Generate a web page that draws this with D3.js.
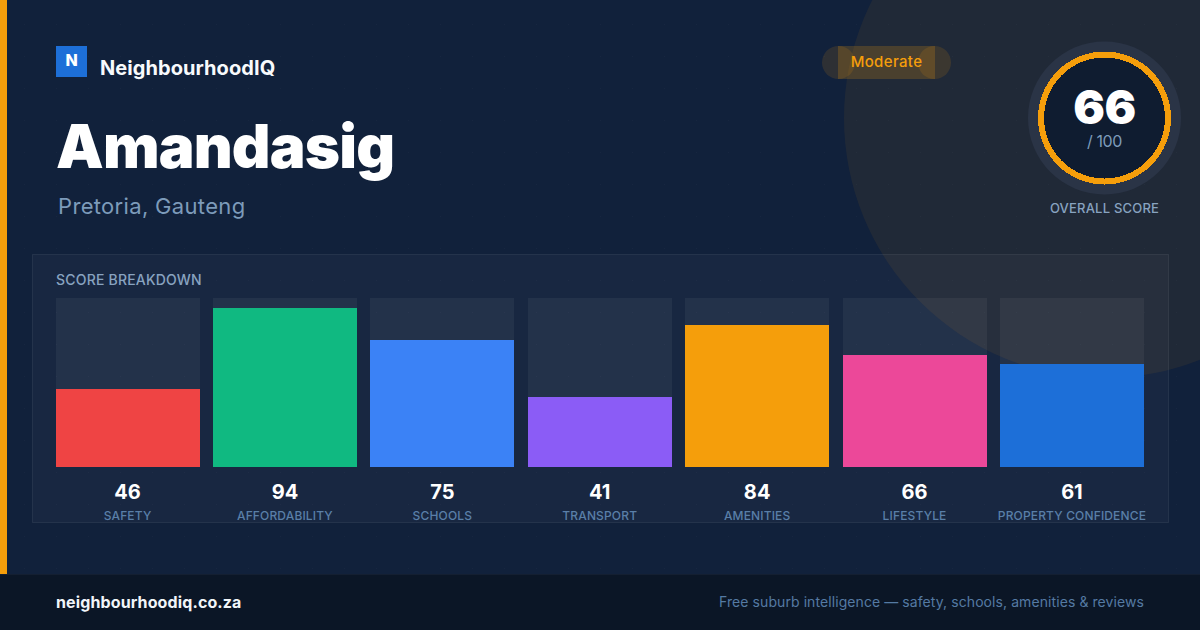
<!DOCTYPE html>
<html>
<head>
<meta charset="utf-8">
<script src="https://cdn.jsdelivr.net/npm/d3@7"></script>
<style>
html, body { margin: 0; padding: 0; background: #0f1f38; }
#chart-area { position: relative; width: 1200px; height: 630px; overflow: hidden; font-family: Inter, "Noto Sans", sans-serif; }
svg { display: block; position: absolute; left: 0; top: 0; }
.lbl { position: absolute; line-height: 1; white-space: nowrap; }
</style>
</head>
<body>
<div id="chart-area"></div>
<script>
var categories = ["SAFETY", "AFFORDABILITY", "SCHOOLS", "TRANSPORT", "AMENITIES", "LIFESTYLE", "PROPERTY CONFIDENCE"];
var scores = [46, 94, 75, 41, 84, 66, 61];
var barColors = ["#ef4444", "#10b981", "#3b82f6", "#8b5cf6", "#f59e0b", "#ec4899", "#1d6fd8"];
var overallScore = 66;

var width = 1200,
    height = 630;

var area = d3.select("#chart-area");

var svg = area.append("svg")
    .attr("width", width)
    .attr("height", height);

var defs = svg.append("defs");

var pattern = defs.append("pattern")
    .attr("id", "dots")
    .attr("width", 32)
    .attr("height", 32)
    .attr("patternUnits", "userSpaceOnUse");
pattern.append("rect")
    .attr("x", 24).attr("y", 24)
    .attr("width", 1).attr("height", 1)
    .attr("fill", "rgba(255,255,255,0.025)");

// text goes in as html so it gets the same glyph spacing as a normal page
function label(txt, x, baseline, size, weight, color, spacing, anchor, boxWidth) {
    var el = area.append("div")
        .attr("class", "lbl")
        .style("top", Math.round(baseline - 0.8636 * size) + "px")
        .style("font-size", size + "px")
        .style("font-weight", weight)
        .style("color", color)
        .style("letter-spacing", (spacing || 0) + "px")
        .text(txt);
    if (anchor == "middle") {
        el.style("left", (x - boxWidth / 2) + "px").style("width", boxWidth + "px").style("text-align", "center");
    } else if (anchor == "end") {
        el.style("right", (width - x) + "px");
    } else {
        el.style("left", x + "px");
    }
    return el;
}

// background
svg.append("rect").attr("width", width).attr("height", height).attr("fill", "#11213b");
svg.append("circle")
    .attr("cx", 1104).attr("cy", 118).attr("r", 260)
    .attr("fill", "rgba(245,158,11,0.07)");
svg.append("rect").attr("width", width).attr("height", height).attr("fill", "url(#dots)");
svg.append("rect").attr("width", 7).attr("height", height).attr("fill", "#f59e0b");

// footer
svg.append("rect").attr("y", 574).attr("width", width).attr("height", 56).attr("fill", "#0b1626");
svg.append("rect").attr("y", 574).attr("width", width).attr("height", 1).attr("fill", "#141f31");
label("neighbourhoodiq.co.za", 56, 608, 16, 700, "#f1f5f9", 0.12);
label("Free suburb intelligence \u2014 safety, schools, amenities & reviews", 1144, 607, 14, 400, "#557aa3", 0.08, "end");

// header
svg.append("rect").attr("x", 56).attr("y", 46).attr("width", 31).attr("height", 31).attr("fill", "#1d6fd8");
label("N", 71.5, 66, 16, 800, "#ffffff", 0, "middle", 31);
label("NeighbourhoodIQ", 100, 75, 20, 700, "#f8fafc", 0.07);
label("Amandasig", 56, 168, 60, 900, "#ffffff", -0.8);
label("Pretoria, Gauteng", 58, 214, 22, 400, "#7d9bba", 0.33);

// moderate pill
svg.append("rect").attr("x", 838).attr("y", 46).attr("width", 97).attr("height", 33)
    .attr("fill", "rgba(245,158,11,0.2)");
[838.5, 934.5].forEach(function(cx) {
    svg.append("circle").attr("cx", cx).attr("cy", 62.5).attr("r", 16.5)
        .attr("fill", "rgba(245,158,11,0.13)");
});
label("Moderate", 886.5, 67, 15, 500, "#f59e0b", 0.35, "middle", 97);

// score ring
var ringX = 1104.5, ringY = 118;
svg.append("circle").attr("cx", ringX).attr("cy", ringY).attr("r", 76.5).attr("fill", "#2a3446");
svg.append("circle").attr("cx", ringX).attr("cy", ringY).attr("r", 66.5).attr("fill", "#f59e0b")
    .attr("shape-rendering", "crispEdges");
svg.append("circle").attr("cx", ringX).attr("cy", ringY).attr("r", 60.5).attr("fill", "#0f1c30")
    .attr("shape-rendering", "crispEdges");
label(overallScore, ringX, 124, 47, 900, "#ffffff", -0.5, "middle", 120);
label("/ 100", ringX, 147, 16, 400, "#7d9bba", -0.4, "middle", 120);
label("OVERALL SCORE", ringX, 213, 13, 500, "#88a3c0", 0.2, "middle", 150);

// breakdown panel
svg.append("rect").attr("x", 32.5).attr("y", 254.5).attr("width", 1136).attr("height", 268)
    .attr("fill", "rgba(255,255,255,0.03)")
    .attr("stroke", "rgba(255,255,255,0.07)");
label("SCORE BREAKDOWN", 56, 285, 14, 500, "#88a3c0", 0.2);

var x = d3.scaleBand()
    .domain(categories)
    .range([55.55, 1143.95])
    .paddingInner(0.08513);

var y = d3.scaleLinear()
    .domain([0, 100])
    .range([466.6, 297.6]);

var g = svg.selectAll(".bar")
    .data(categories)
  .enter().append("g")
    .attr("class", "bar");

g.append("rect")
    .attr("x", function(d) { return Math.round(x(d)); })
    .attr("y", Math.round(y(100)))
    .attr("width", Math.round(x.bandwidth()))
    .attr("height", Math.round(y(0)) - Math.round(y(100)))
    .attr("fill", "rgba(255,255,255,0.05)");

g.append("rect")
    .attr("x", function(d) { return Math.round(x(d)); })
    .attr("y", function(d, i) { return Math.round(y(scores[i])); })
    .attr("width", Math.round(x.bandwidth()))
    .attr("height", function(d, i) { return Math.round(y(0)) - Math.round(y(scores[i])); })
    .attr("fill", function(d, i) { return barColors[i]; });

categories.forEach(function(d, i) {
    var cx = x(d) + 72;
    label(scores[i], cx, 499, 20, 700, "#ffffff", 0, "middle", 144);
    label(d, cx, 520, 12, 500, "#5a7fa8", 0.15, "middle", 160);
});
</script>
</body>
</html>
